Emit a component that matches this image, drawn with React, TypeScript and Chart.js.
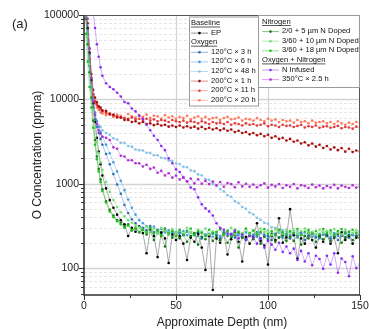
import React, { useEffect, useRef } from "react";
import { Chart, registerables } from "chart.js";
Chart.register(...registerables);

// ---------- data ----------
const depth = [
  1, 2, 3, 4, 5, 6, 7, 8, 9, 10,
  12, 14, 16, 18, 20, 22, 24, 26, 28, 30,
  32, 34, 36, 38, 40, 42, 44, 46, 48, 50,
  52, 54, 56, 58, 60, 62, 64, 66, 68, 70,
  72, 74, 76, 78, 80, 82, 84, 86, 88, 90,
  92, 94, 96, 98, 100, 102, 104, 106, 108, 110,
  112, 114, 116, 118, 120, 122, 124, 126, 128, 130,
  132, 134, 136, 138, 140, 142, 144, 146, 148, 150,
];

const epValues = [
  120000, 70000, 36000, 17000, 9000, 5400, 3500, 2400, 1700, 1250,
  880, 640, 520, 430, 370, 330, 240, 300, 270, 310,
  260, 150, 280, 240, 135, 265, 225, 115, 250, 215,
  240, 195, 125, 230, 205, 255, 175, 95, 240, 55,
  225, 200, 250, 145, 220, 265, 205, 120, 235, 195,
  230, 340, 210, 185, 110, 240, 215, 390, 200, 230,
  500, 245, 130, 225, 195, 260, 215, 175, 240, 205,
  250, 195, 230, 150, 265, 215, 240, 195, 230, 250,
];

const o120x3Values = [
  100000, 55000, 25000, 13000, 8000, 5800, 4700, 4000, 3400, 2900,
  2250, 1700, 1300, 980, 760, 560, 450, 380, 340, 310,
  300, 280, 315, 265, 285, 255, 295, 250, 270, 240,
  265, 245, 275, 235, 255, 265, 225, 250, 240, 260,
  250, 225, 265, 240, 255, 230, 260, 235, 220, 250,
  240, 265, 225, 250, 240, 215, 255, 230, 260, 240,
  225, 250, 240, 265, 215, 240, 255, 230, 245, 250,
  240, 225, 255, 215, 240, 265, 230, 250, 240, 225,
];

const o120x6Values = [
  100000, 68000, 34000, 17000, 10000, 7000, 5500, 4700, 4100, 3600,
  2900, 2300, 1800, 1400, 1080, 840, 650, 520, 430, 370,
  340, 315, 300, 310, 280, 290, 265, 280, 260, 270,
  255, 275, 245, 265, 250, 240, 270, 245, 255, 235,
  260, 240, 250, 270, 235, 255, 245, 230, 265, 245,
  250, 235, 260, 240, 225, 255, 245, 265, 230, 250,
  245, 260, 230, 250, 240, 265, 235, 250, 225, 255,
  250, 235, 260, 240, 255, 230, 250, 245, 235, 260,
];

const o120x48Values = [
  100000, 60000, 28000, 14000, 8500, 6400, 5600, 4900, 4700, 4300,
  4000, 3800, 3450, 3350, 3050, 3050, 2800, 2750, 2550, 2500,
  2480, 2330, 2320, 2180, 2170, 2030, 2010, 1880, 1870, 1740,
  1710, 1590, 1570, 1440, 1410, 1290, 1260, 1140, 1110, 990,
  940, 860, 810, 730, 700, 620, 590, 530, 505, 455,
  435, 395, 375, 345, 335, 305, 300, 285, 282, 268,
  265, 255, 270, 250, 260, 245, 265, 240, 255, 250,
  245, 260, 240, 255, 250, 235, 260, 245, 250, 240,
];

const o200x1Values = [
  100000, 80000, 40000, 20000, 13000, 10500, 9200, 8300, 8000, 7400,
  7300, 6700, 6600, 6100, 6100, 5700, 5700, 5400, 5500, 5200,
  5400, 5100, 5200, 4950, 5100, 4900, 5000, 4750, 4900, 4700,
  4900, 4650, 4800, 4600, 4750, 4500, 4700, 4450, 4600, 4400,
  4550, 4300, 4500, 4250, 4400, 4100, 4250, 4000, 4100, 3850,
  4000, 3750, 3900, 3650, 3800, 3500, 3650, 3400, 3500, 3250,
  3400, 3150, 3250, 3000, 3100, 2850, 3000, 2750, 2900, 2650,
  2800, 2550, 2700, 2500, 2650, 2400, 2600, 2380, 2480, 2400,
];

const o200x11Values = [
  100000, 70000, 35000, 18000, 11500, 9500, 8600, 8000, 7600, 7200,
  6900, 6600, 6400, 6300, 6100, 6000, 5900, 6100, 5800, 5900,
  5700, 5900, 5600, 5800, 5500, 5700, 5600, 5400, 5700, 5500,
  5400, 5600, 5300, 5500, 5400, 5200, 5500, 5300, 5100, 5400,
  5200, 5300, 5100, 5400, 5000, 5200, 5100, 4900, 5200, 5000,
  5100, 4900, 5000, 5200, 4800, 5000, 4900, 4700, 5000, 4850,
  4900, 4700, 4850, 5000, 4650, 4800, 4700, 4900, 4600, 4750,
  4800, 4600, 4700, 4850, 4550, 4700, 4650, 4500, 4750, 4600,
];

const o200x20Values = [
  100000, 60000, 30000, 16000, 11000, 9000, 8000, 7500, 7000, 6800,
  6500, 6900, 6200, 6600, 6400, 6000, 6700, 6300, 6100, 6500,
  6200, 6600, 6000, 6400, 6300, 5900, 6500, 6100, 6300, 5900,
  6200, 6000, 6400, 5800, 6100, 6300, 5900, 6200, 5800, 6000,
  6100, 5700, 6000, 6200, 5800, 5900, 6100, 5600, 5900, 5800,
  5600, 6000, 5700, 5500, 5900, 5600, 5800, 5400, 5700, 5500,
  5600, 5300, 5700, 5400, 5500, 5200, 5600, 5300, 5400, 5500,
  5200, 5400, 5100, 5500, 5200, 5000, 5300, 5100, 5400, 5100,
];

const n5Values = [
  90000, 45000, 21000, 10500, 5600, 3300, 2100, 1500, 1120, 860,
  620, 490, 420, 370, 345, 310, 330, 280, 295, 265,
  285, 250, 270, 215, 260, 240, 180, 255, 230, 265,
  225, 250, 205, 240, 260, 190, 235, 220, 250, 210,
  240, 215, 255, 200, 235, 250, 175, 230, 215, 245,
  220, 250, 195, 235, 215, 255, 205, 230, 245, 210,
  235, 210, 250, 190, 240, 225, 260, 205, 235, 220,
  245, 210, 235, 255, 200, 230, 245, 215, 240, 225,
];

const n10Values = [
  100000, 55000, 26000, 13000, 7500, 4600, 3100, 2300, 1800, 1450,
  1050, 800, 640, 530, 460, 410, 370, 345, 320, 305,
  290, 310, 270, 295, 260, 300, 275, 250, 290, 265,
  280, 255, 300, 265, 245, 285, 270, 295, 250, 275,
  265, 290, 245, 280, 300, 255, 275, 260, 290, 250,
  275, 255, 295, 265, 280, 245, 290, 270, 255, 285,
  260, 285, 250, 275, 295, 260, 270, 250, 285, 265,
  275, 255, 290, 265, 250, 285, 270, 260, 280, 265,
];

const n18Values = [
  60000, 28000, 14000, 8000, 4600, 2900, 1950, 1400, 1050, 820,
  600, 470, 400, 360, 330, 300, 320, 285, 300, 270,
  290, 265, 300, 255, 280, 245, 290, 260, 275, 240,
  285, 250, 270, 295, 245, 275, 260, 240, 285, 255,
  270, 290, 250, 275, 240, 285, 265, 250, 295, 260,
  280, 250, 270, 290, 255, 275, 245, 285, 265, 250,
  275, 260, 290, 245, 270, 285, 255, 275, 250, 290,
  260, 280, 250, 275, 290, 255, 270, 285, 260, 275,
];

const nInfusedValues = [
  160000, 160000, 160000, 150000, 110000, 70000, 45000, 32000, 24000, 19000,
  15500, 14000, 13200, 12000, 10800, 9300, 9000, 7800, 7200, 6400,
  5900, 5000, 4300, 3700, 3300, 2800, 2500, 2000, 1750, 1480,
  1380, 1180, 1070, 900, 860, 690, 570, 510, 470, 420,
  340, 300, 285, 255, 250, 275, 225, 250, 215, 240,
  230, 195, 225, 175, 210, 190, 165, 200, 155, 180,
  150, 170, 125, 160, 120, 150, 108, 140, 128, 98,
  140, 110, 150, 88, 130, 118, 80, 138, 100, 112,
];

const o350Values = [
  150000, 90000, 40000, 18000, 9500, 6600, 5100, 4300, 3900, 3600,
  3500, 3300, 2700, 2600, 2150, 2100, 1900, 1900, 1750, 1750,
  1600, 1680, 1500, 1560, 1350, 1420, 1250, 1330, 1180, 1250,
  1120, 1200, 1060, 1150, 1010, 1130, 1000, 1080, 990, 1060,
  960, 1050, 920, 1020, 990, 910, 1040, 930, 1000, 920,
  980, 910, 960, 1010, 900, 970, 930, 990, 890, 960,
  920, 990, 880, 960, 940, 890, 980, 910, 950, 880,
  940, 900, 970, 880, 950, 920, 890, 960, 900, 930,
];

const xTickValues = [0, 50, 100, 150];
const xMinorTickValues = [25, 75, 125];
const yTickValues = [100, 1000, 10000, 100000];

// ---------- series styling ----------
type S = { label: string; values: number[]; color: string; line: string; z: number };
const series: S[] = [
  { label: "EP", values: epValues, color: "#000000", line: "rgba(60,60,60,0.55)", z: 6 },
  { label: "120°C × 3 h", values: o120x3Values, color: "#2d6db5", line: "rgba(45,109,181,0.5)", z: 4 },
  { label: "120°C × 6 h", values: o120x6Values, color: "#4a9ce0", line: "rgba(74,156,224,0.5)", z: 5 },
  { label: "120°C × 48 h", values: o120x48Values, color: "#86c0e8", line: "rgba(134,192,232,0.55)", z: 3 },
  { label: "200°C × 1 h", values: o200x1Values, color: "#a50f0f", line: "rgba(165,15,15,0.45)", z: 2 },
  { label: "200°C × 11 h", values: o200x11Values, color: "#e33b3b", line: "rgba(227,59,59,0.4)", z: 1 },
  { label: "200°C × 20 h", values: o200x20Values, color: "#ff7a5c", line: "rgba(255,122,92,0.45)", z: 0 },
  { label: "2/0 + 5 µm N Doped", values: n5Values, color: "#0f7a0f", line: "rgba(15,122,15,0.5)", z: 7 },
  { label: "3/60 + 10 µm N Doped", values: n10Values, color: "#78dc78", line: "rgba(120,220,120,0.55)", z: 8 },
  { label: "3/60 + 18 µm N Doped", values: n18Values, color: "#20c020", line: "rgba(32,192,32,0.5)", z: 9 },
  { label: "N Infused", values: nInfusedValues, color: "#8a2cf0", line: "rgba(138,44,240,0.5)", z: 10 },
  { label: "350°C × 2.5 h", values: o350Values, color: "#b030d4", line: "rgba(176,48,212,0.45)", z: 11 },
];

const legendLeft: (string | { h: string })[] = [
  { h: "Baseline" }, "EP", { h: "Oxygen" },
  "120°C × 3 h", "120°C × 6 h", "120°C × 48 h",
  "200°C × 1 h", "200°C × 11 h", "200°C × 20 h",
];
const legendRight: (string | { h: string })[] = [
  { h: "Nitrogen" }, "2/0 + 5 µm N Doped", "3/60 + 10 µm N Doped", "3/60 + 18 µm N Doped",
  { h: "Oxygen + Nitrogen" }, "N Infused", "350°C × 2.5 h",
];

const FONT = '"Liberation Sans", Arial, sans-serif';

const decor = {
  id: "decor",
  beforeDatasetsDraw(chart: any) {
    const { ctx, chartArea: a, scales } = chart;
    const x = scales.x, y = scales.y;
    ctx.save();
    for (let e = 1; e <= 4; e++) {
      for (let m = 1; m <= 9; m++) {
        const v = m * Math.pow(10, e);
        if (v < 50 || v >= 100000) continue;
        const py = Math.round(y.getPixelForValue(v)) + 0.5;
        ctx.beginPath();
        if (m === 1) {
          ctx.strokeStyle = "#d2d2d2";
          ctx.lineWidth = 1.4;
          ctx.setLineDash([]);
        } else {
          ctx.strokeStyle = "#e0e0e0";
          ctx.lineWidth = 0.8;
          ctx.setLineDash([3, 2]);
        }
        ctx.moveTo(a.left, py);
        ctx.lineTo(a.right, py);
        ctx.stroke();
      }
    }
    ctx.setLineDash([]);
    for (const v of [50, 100]) {
      const px = Math.round(x.getPixelForValue(v)) + 0.5;
      ctx.beginPath();
      ctx.strokeStyle = "#d2d2d2";
      ctx.lineWidth = 1.2;
      ctx.moveTo(px, a.top);
      ctx.lineTo(px, a.bottom);
      ctx.stroke();
    }
    ctx.restore();
  },
  afterDraw(chart: any) {
    const { ctx, chartArea: a, scales } = chart;
    const x = scales.x, y = scales.y;
    ctx.save();
    ctx.strokeStyle = "#555";
    ctx.lineWidth = 1;
    ctx.beginPath();
    ctx.moveTo(a.left, a.top + 0.5);
    ctx.lineTo(a.right - 0.5, a.top + 0.5);
    ctx.lineTo(a.right - 0.5, a.bottom);
    ctx.stroke();
    ctx.strokeStyle = "#333";
    ctx.lineWidth = 1.6;
    ctx.beginPath();
    ctx.moveTo(a.left, a.top);
    ctx.lineTo(a.left, a.bottom);
    ctx.lineTo(a.right, a.bottom);
    ctx.stroke();
    ctx.lineWidth = 1;
    for (let e = 1; e <= 5; e++) {
      for (let m = 1; m <= 9; m++) {
        const v = m * Math.pow(10, e);
        if (v < 50 || v > 100000) continue;
        const py = Math.round(y.getPixelForValue(v)) + 0.5;
        const len = m === 1 ? 5 : 3;
        ctx.beginPath();
        ctx.moveTo(a.left - len, py);
        ctx.lineTo(a.left, py);
        ctx.stroke();
      }
    }
    for (const v of xTickValues) {
      const px = Math.round(x.getPixelForValue(v)) + 0.5;
      ctx.beginPath();
      ctx.moveTo(px, a.bottom);
      ctx.lineTo(px, a.bottom + 5);
      ctx.stroke();
    }
    for (const v of xMinorTickValues) {
      const px = Math.round(x.getPixelForValue(v)) + 0.5;
      ctx.beginPath();
      ctx.moveTo(px, a.bottom);
      ctx.lineTo(px, a.bottom + 3);
      ctx.stroke();
    }
    ctx.fillStyle = "#222";
    ctx.font = `10.5px ${FONT}`;
    ctx.textAlign = "right";
    ctx.textBaseline = "middle";
    for (const v of yTickValues) {
      ctx.fillText(String(v), a.left - 5, y.getPixelForValue(v));
    }
    ctx.textAlign = "center";
    ctx.textBaseline = "top";
    for (const v of xTickValues) {
      ctx.fillText(String(v), x.getPixelForValue(v), a.bottom + 6);
    }
    ctx.font = `12px ${FONT}`;
    ctx.fillStyle = "#222";
    ctx.textBaseline = "alphabetic";
    ctx.fillText("Approximate Depth (nm)", (a.left + a.right) / 2, 326);
    ctx.save();
    ctx.translate(41, (a.top + a.bottom) / 2);
    ctx.rotate(-Math.PI / 2);
    ctx.textAlign = "center";
    ctx.fillText("O Concentration (ppma)", 0, 0);
    ctx.restore();
    ctx.font = `13px ${FONT}`;
    ctx.textAlign = "left";
    ctx.fillText("(a)", 12, 28);

    const drawBox = (bx: number, by: number, bw: number, bh: number, items: (string | { h: string })[], tx: number) => {
      ctx.fillStyle = "#ffffff";
      ctx.fillRect(bx, by, bw, bh);
      ctx.strokeStyle = "#9a9a9a";
      ctx.lineWidth = 1;
      ctx.strokeRect(bx + 0.5, by + 0.5, bw, bh);
      ctx.font = `7.6px ${FONT}`;
      ctx.textBaseline = "middle";
      ctx.textAlign = "left";
      items.forEach((it, i) => {
        const cy = by + 6.5 + i * 9.6;
        if (typeof it !== "string") {
          ctx.fillStyle = "#111";
          ctx.fillText(it.h, tx, cy);
          const w = ctx.measureText(it.h).width;
          ctx.strokeStyle = "#111";
          ctx.lineWidth = 0.7;
          ctx.beginPath();
          ctx.moveTo(tx, cy + 4);
          ctx.lineTo(tx + w, cy + 4);
          ctx.stroke();
        } else {
          const s = series.find((q) => q.label === it)!;
          ctx.strokeStyle = s.line;
          ctx.lineWidth = 1;
          ctx.beginPath();
          ctx.moveTo(tx, cy + 0.5);
          ctx.lineTo(tx + 17, cy + 0.5);
          ctx.stroke();
          ctx.fillStyle = s.color;
          ctx.beginPath();
          ctx.arc(tx + 8.5, cy + 0.5, 1.3, 0, Math.PI * 2);
          ctx.fill();
          ctx.fillStyle = "#111";
          ctx.fillText(it, tx + 20, cy);
        }
      });
    };
    drawBox(189, 16.5, 69, 89, legendLeft, 191);
    drawBox(258, 15, 101, 72, legendRight, 262);
    ctx.restore();
  },
};

export default function App() {
  const ref = useRef<HTMLCanvasElement | null>(null);
  useEffect(() => {
    if (!ref.current) return;
    const chart = new Chart(ref.current, {
      type: "line",
      data: {
        datasets: series.map((s) => ({
          label: s.label,
          data: depth.map((d, j) => ({ x: d, y: s.values[j] })),
          borderColor: s.line,
          backgroundColor: s.color,
          pointBackgroundColor: s.color,
          pointBorderWidth: 0,
          pointRadius: 1.3,
          borderWidth: 0.8,
          tension: 0,
          order: 20 - s.z,
        })),
      },
      options: {
        animation: false,
        responsive: false,
        devicePixelRatio: 1,
        layout: { padding: { left: 0, top: 15, right: 9, bottom: 0 } },
        plugins: { legend: { display: false }, tooltip: { enabled: false } },
        scales: {
          x: {
            type: "linear",
            min: 0,
            max: 150,
            ticks: { display: false },
            grid: { display: false },
            border: { display: false },
            afterFit: (s: any) => { s.height = 34; },
          },
          y: {
            type: "logarithmic",
            min: 48,
            max: 100000,
            ticks: { display: false },
            grid: { display: false },
            border: { display: false },
            afterFit: (s: any) => { s.width = 84; },
          },
        },
      } as any,
      plugins: [decor],
    });
    return () => chart.destroy();
  }, []);
  return (
    <div style={{ position: "absolute", left: 0, top: 0, width: 369, height: 329, background: "#fff" }}>
      <canvas ref={ref} width={369} height={329} style={{ width: 369, height: 329 }} />
    </div>
  );
}
